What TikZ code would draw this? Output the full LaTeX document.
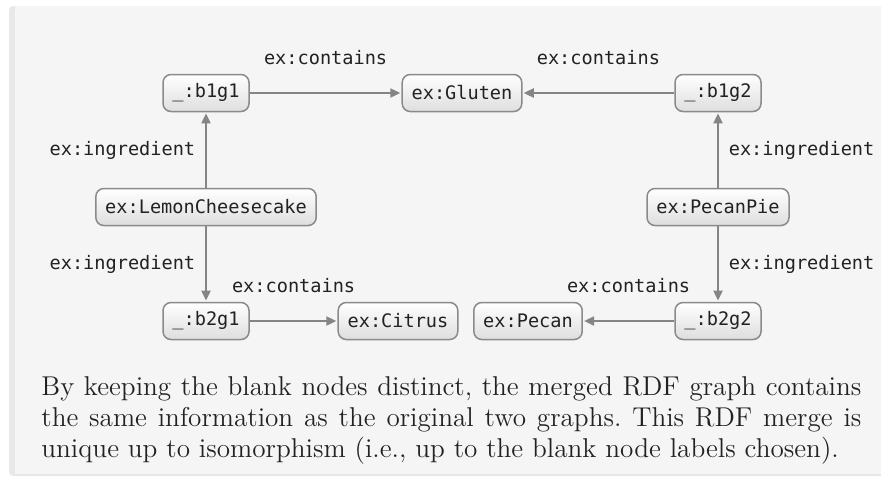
\documentclass[tikz,border=0pt]{standalone}
\usepackage{fontspec}
\newfontfamily\monofont{DejaVu Sans Mono}
\usetikzlibrary{arrows.meta}
\definecolor{panelbg}{HTML}{F5F5F5}
\definecolor{panelrim}{HTML}{E8E8E8}
\definecolor{boxrim}{HTML}{8A8A8A}
\definecolor{edgecol}{HTML}{858585}
\definecolor{inkcol}{HTML}{222222}
\tikzset{
  rdfnode/.style={draw=boxrim, line width=0.75pt, rounded corners=4pt,
    top color=white, bottom color=black!13,
    font=\monofont\fontsize{9.3}{11}\selectfont, text=inkcol,
    inner xsep=4.7pt, inner ysep=0pt, minimum height=18.5pt},
  rdfedge/.style={draw=edgecol, line width=0.8pt,
    -{Triangle[length=5pt,width=4.6pt]}, shorten >=0.6pt},
  lbl/.style={font=\monofont\fontsize{9.3}{11}\selectfont, text=inkcol, inner sep=0pt}
}
\begin{document}
\begin{tikzpicture}[x=0.5pt, y=-0.5pt]
  \useasboundingbox (0,0) rectangle (881,477);
  % panel behind the graph
  \fill[panelrim, rounded corners=2pt] (9,6) rectangle (890,476);
  \fill[panelbg] (15,6) rectangle (881,474);

  % nodes
  \node[rdfnode] (b1g1)   at (206,93)  {\_:b1g1};
  \node[rdfnode] (gluten) at (462,93)  {ex:Gluten};
  \node[rdfnode] (b1g2)   at (718,93)  {\_:b1g2};
  \node[rdfnode] (lemon)  at (206,207) {ex:LemonCheesecake};
  \node[rdfnode] (pie)    at (718,207) {ex:PecanPie};
  \node[rdfnode] (b2g1)   at (206,321) {\_:b2g1};
  \node[rdfnode] (citrus) at (398,321) {ex:Citrus};
  \node[rdfnode] (pecan)  at (528,321) {ex:Pecan};
  \node[rdfnode] (b2g2)   at (718,321) {\_:b2g2};

  % edges
  \draw[rdfedge] (b1g1) -- (gluten) node[lbl, midway, yshift=17.5pt] {ex:contains};
  \draw[rdfedge] (b1g2) -- (gluten) node[lbl, midway, yshift=17.5pt] {ex:contains};
  \draw[rdfedge] (lemon) -- (b1g1) node[lbl, midway, anchor=east, xshift=-5pt] {ex:ingredient};
  \draw[rdfedge] (lemon) -- (b2g1) node[lbl, midway, anchor=east, xshift=-5pt] {ex:ingredient};
  \draw[rdfedge] (pie) -- (b1g2) node[lbl, midway, anchor=west, xshift=5pt] {ex:ingredient};
  \draw[rdfedge] (pie) -- (b2g2) node[lbl, midway, anchor=west, xshift=5pt] {ex:ingredient};
  \draw[rdfedge] (b2g1) -- (citrus) node[lbl, midway, yshift=17.5pt] {ex:contains};
  \draw[rdfedge] (b2g2) -- (pecan) node[lbl, midway, yshift=17.5pt] {ex:contains};

  % caption
  \node[anchor=base west, inner sep=0pt, text width=410pt, align=justify,
        text=inkcol, font=\fontsize{13.6}{15.5}\selectfont\frenchspacing] (caption) at (41,395)
    {By keeping the blank nodes distinct, the merged RDF graph contains\linebreak
     the same information as the original two graphs. This RDF merge is\linebreak
     unique up to isomorphism (i.e., up to the blank node labels chosen).};
\end{tikzpicture}
\end{document}
